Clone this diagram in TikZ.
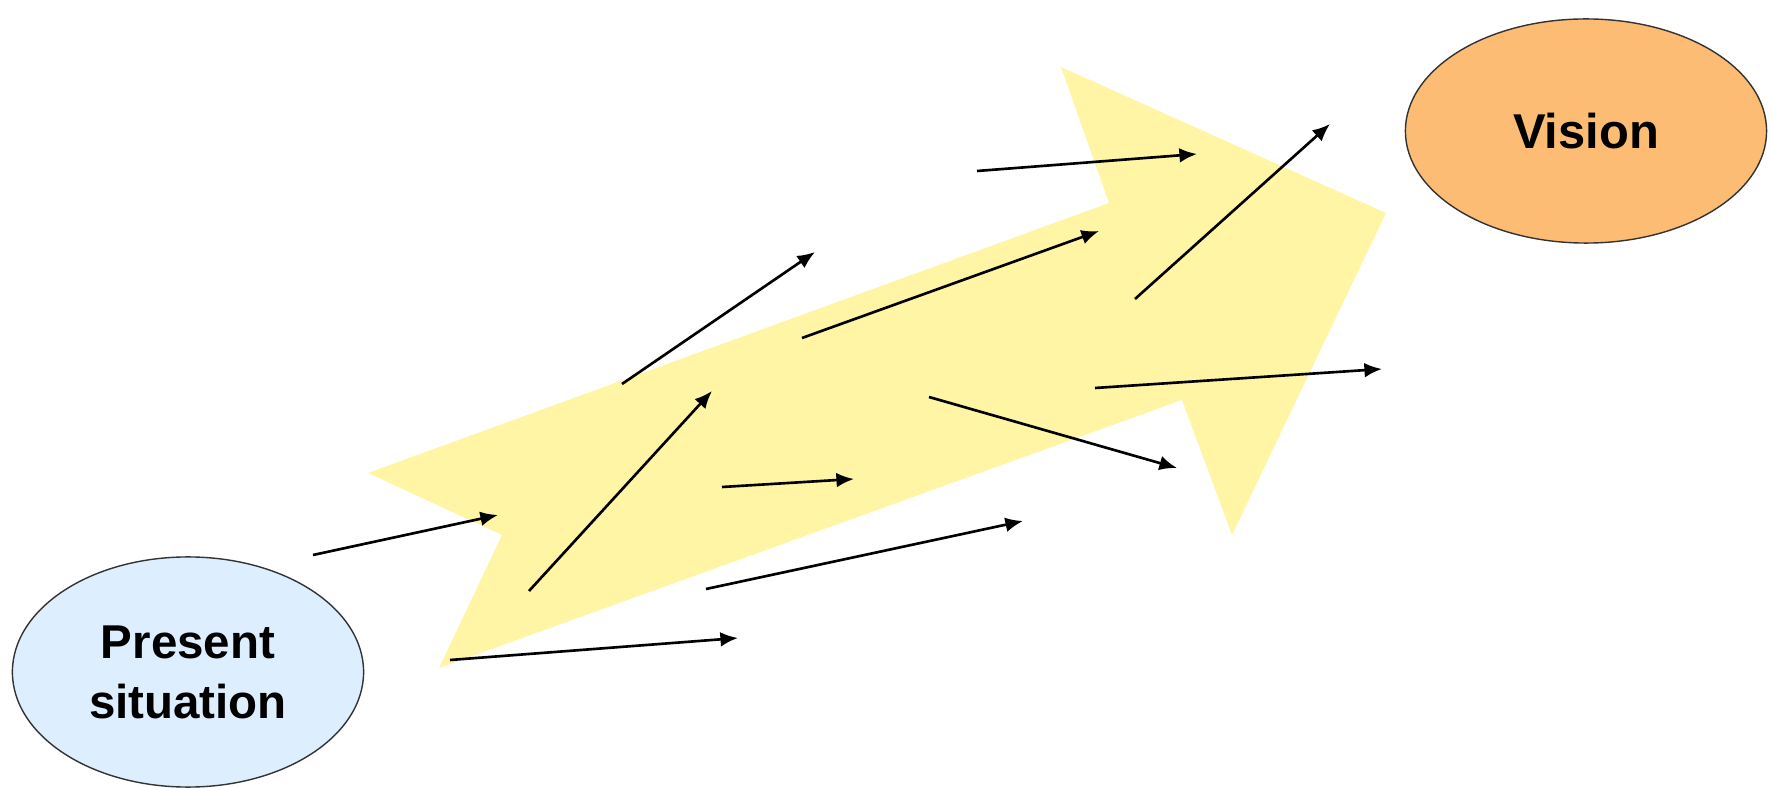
\documentclass[tikz,border=0pt]{standalone}
\usepackage{fontspec}
\setmainfont{Liberation Sans}
\usetikzlibrary{arrows.meta,shapes.geometric}
\definecolor{bandyellow}{HTML}{FFF5A5}
\definecolor{nowblue}{HTML}{DDEEFE}
\definecolor{goalorange}{HTML}{FCBC74}
\begin{document}
\begin{tikzpicture}[x=0.01cm,y=-0.01cm,
  blob/.style={ellipse, draw=black!80, line width=0.4pt, inner sep=0pt},
  move/.style={black, line width=0.75pt, -{Latex[length=5pt,width=4.2pt]}}]
\useasboundingbox (0,0) rectangle (1771,788);
\fill[bandyellow] (368,473) -- (1109,203) -- (1061,67) -- (1386,213)
  -- (1232,535) -- (1182,400) -- (439,668) -- (502,535) -- cycle;
\node[blob, fill=nowblue, minimum width=3.51cm, minimum height=2.3cm,
  font=\bfseries\fontsize{13.5}{17.1}\selectfont, align=center]
  (present) at (188,672) {Present\\situation};
\node[blob, fill=goalorange, minimum width=3.61cm, minimum height=2.24cm,
  font=\bfseries\fontsize{13.9}{17}\selectfont]
  (vision) at (1586,131) {Vision};
\draw[move] (313,555) -- (498,515);
\draw[move] (529,591) -- (712,391);
\draw[move] (622,384) -- (815,252);
\draw[move] (977,171) -- (1197,154);
\draw[move] (802,338) -- (1099,231);
\draw[move] (1135,299) -- (1330,124);
\draw[move] (1095,388) -- (1382,369);
\draw[move] (929,397) -- (1177,468);
\draw[move] (722,487) -- (854,479);
\draw[move] (706,589) -- (1023,521);
\draw[move] (450,660) -- (738,638);
\end{tikzpicture}
\end{document}
